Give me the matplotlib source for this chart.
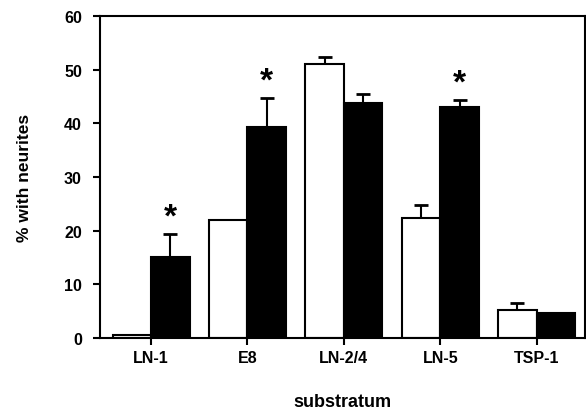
import numpy as np
import matplotlib
matplotlib.use('Agg')
import matplotlib.pyplot as plt

plt.rcParams['font.family'] = ['Liberation Sans', 'DejaVu Sans']
plt.rcParams['font.weight'] = 'bold'

substrata = ['LN-1', 'E8', 'LN-2/4', 'LN-5', 'TSP-1']
white_vals = [0.6, 22.0, 51.0, 22.4, 5.2]
white_err = [0.0, 0.0, 1.3, 2.3, 1.3]
black_vals = [15.1, 39.4, 43.7, 43.0, 4.7]
black_err = [4.3, 5.3, 1.7, 1.3, 0.0]
signif = [True, True, False, True, False]


def upper_errorbar(ax, xs, vals, errs):
    # only the upper half of the error bar, with a cap on top
    for xi, v, e in zip(xs, vals, errs):
        if e <= 0:
            continue
        ax.errorbar(xi, v + e / 2, yerr=e / 2, fmt='none', ecolor='black',
                    elinewidth=1.5, capsize=5, capthick=2, zorder=1)


def main():
    fig = plt.figure(figsize=(5.86, 4.14), dpi=100)
    ax = fig.add_axes([0.1706, 0.181, 0.8276, 0.778])

    x = np.arange(len(substrata))
    width = 0.4
    ax.bar(x - width / 2, white_vals, width, color='white', edgecolor='black', linewidth=1.5, zorder=2)
    ax.bar(x + width / 2, black_vals, width, color='black', edgecolor='black', linewidth=1.5, zorder=2)
    upper_errorbar(ax, x - width / 2, white_vals, white_err)
    upper_errorbar(ax, x + width / 2, black_vals, black_err)
    for xi, v, e, s in zip(x, black_vals, black_err, signif):
        if s:
            ax.text(xi + width / 2, v + e + 3.2, '*', ha='center', va='center', fontsize=24, fontweight='bold')

    ax.set_xlim(-0.53, 4.5)
    ax.set_ylim(0, 60)
    ax.set_yticks(np.arange(0, 61, 10))
    ax.set_xticks(x)
    ax.set_xticklabels(substrata)
    ax.tick_params(axis='both', direction='out', length=5, width=1.5, labelsize=11.5)
    ax.tick_params(axis='y', pad=8)
    for sp in ax.spines.values():
        sp.set_linewidth(1.5)
        sp.set_zorder(3)
    ax.set_ylabel('% with neurites', fontsize=12.5, fontweight='bold')
    ax.yaxis.set_label_coords(-0.14, 0.5)
    ax.set_xlabel('substratum', fontsize=13, fontweight='bold')
    ax.xaxis.set_label_coords(0.5, -0.17)

    fig.savefig('out.png', dpi=100)


if __name__ == "__main__":
    main()
